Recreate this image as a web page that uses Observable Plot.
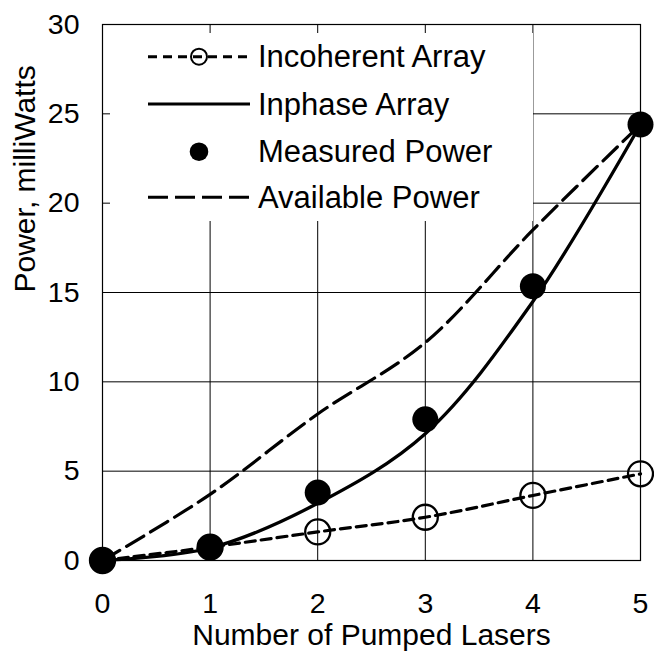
<!DOCTYPE html>
<html><head><meta charset="utf-8">
<script src="https://cdn.jsdelivr.net/npm/d3@7"></script>
<script src="https://cdn.jsdelivr.net/npm/@observablehq/plot@0.6"></script>
<style>
body{margin:0;background:#fff;}
#wrap{position:relative;width:654px;height:666px;font-family:"Liberation Sans",Arial,sans-serif;}
#legend{position:absolute;left:110px;top:33px;width:423px;height:188px;background:#fff;}
</style></head><body><div id="wrap"></div>
<script>
const lasers = [0, 1, 2, 3, 4, 5];
const incoherent = [0, 0.75, 1.6, 2.42, 3.64, 4.85];
const inphase = [0, 0.7, 3.2, 7.1, 14.5, 24.4];
const measured = [0, 0.75, 3.8, 7.9, 15.35, 24.4];
const available = [0, 3.7, 8.2, 12.2, 18.5, 24.4];
const xTicks = [0, 1, 2, 3, 4, 5];
const yTicks = [0, 5, 10, 15, 20, 25, 30];
const seriesNames = ["Incoherent Array", "Inphase Array", "Measured Power", "Available Power"];
const xTitle = "Number of Pumped Lasers";
const yTitle = "Power, milliWatts";

const rows = lasers.map((n, i) => ({n, incoherent: incoherent[i], inphase: inphase[i], measured: measured[i], available: available[i]}));

const font = "Liberation Sans, Arial, sans-serif";
const chart = Plot.plot({
  width: 654, height: 666,
  marginLeft: 102, marginRight: 14, marginTop: 24, marginBottom: 106,
  x: {domain: [0, 5]},
  y: {domain: [0, 30]},
  style: {fontFamily: font, color: "#000", background: "#fff", overflow: "visible"},
  marks: [
    Plot.gridY(yTicks, {stroke: "#000", strokeOpacity: 1, strokeWidth: 1}),
    Plot.gridX(xTicks, {stroke: "#000", strokeOpacity: 1, strokeWidth: 1}),
    Plot.frame({stroke: "#000", strokeWidth: 1.2}),
    Plot.axisY(yTicks, {tickSize: 0, tickPadding: 23, fontSize: 28.5, label: null, tickFormat: d => String(d)}),
    Plot.axisX(xTicks, {tickSize: 0, tickPadding: 32, fontSize: 28.5, label: null, tickFormat: d => String(d)}),
    Plot.line(rows, {x: "n", y: "available", curve: "catmull-rom", stroke: "#000", strokeWidth: 3.2, strokeDasharray: "20,8"}),
    Plot.line(rows, {x: "n", y: "incoherent", curve: "catmull-rom", stroke: "#000", strokeWidth: 3.2, strokeDasharray: "10,6"}),
    Plot.line(rows, {x: "n", y: "inphase", curve: "catmull-rom", stroke: "#000", strokeWidth: 3.3}),
    Plot.dot(rows, {x: "n", y: "incoherent", r: 12.5, stroke: "#000", strokeWidth: 2.3, fill: "none"}),
    Plot.dot(rows, {x: "n", y: "measured", r: 13, fill: "#000", stroke: "none"}),
    Plot.text([xTitle], {frameAnchor: "bottom", dy: 84, fontSize: 30, fill: "#000"}),
    Plot.text([yTitle], {frameAnchor: "left", dx: -77, rotate: -90, fontSize: 30, fill: "#000"})
  ]
});
const wrap = document.getElementById("wrap");
wrap.appendChild(chart);

// legend overlay (white box hides grid behind it, as in the original)
const leg = document.createElement("div");
leg.id = "legend";
wrap.appendChild(leg);
const svg = d3.select(leg).append("svg").attr("width", 423).attr("height", 188);
const rowY = [23.7, 71, 118.7, 164.3];
const styles = [
  {line: true, dash: "9,6", circle: true},
  {line: true, dash: null},
  {dot: true},
  {line: true, dash: "20,7"}
];
seriesNames.forEach((name, i) => {
  const g = svg.append("g").attr("transform", `translate(0,${rowY[i]})`);
  const s = styles[i];
  if (s.line) {
    const l = g.append("line").attr("x1", 38).attr("x2", 140).attr("y1", 0).attr("y2", 0)
      .attr("stroke", "#000").attr("stroke-width", 3);
    if (s.dash) l.attr("stroke-dasharray", s.dash);
  }
  if (s.circle) g.append("circle").attr("cx", 89).attr("cy", 0).attr("r", 8).attr("fill", "none").attr("stroke", "#000").attr("stroke-width", 2);
  if (s.dot) g.append("circle").attr("cx", 89).attr("cy", 0).attr("r", 9.3).attr("fill", "#000");
  g.append("text").attr("x", 148).attr("y", 0).attr("dominant-baseline", "central")
    .attr("font-family", font).attr("font-size", 31).attr("fill", "#000").text(name);
});
</script>
</body></html>
